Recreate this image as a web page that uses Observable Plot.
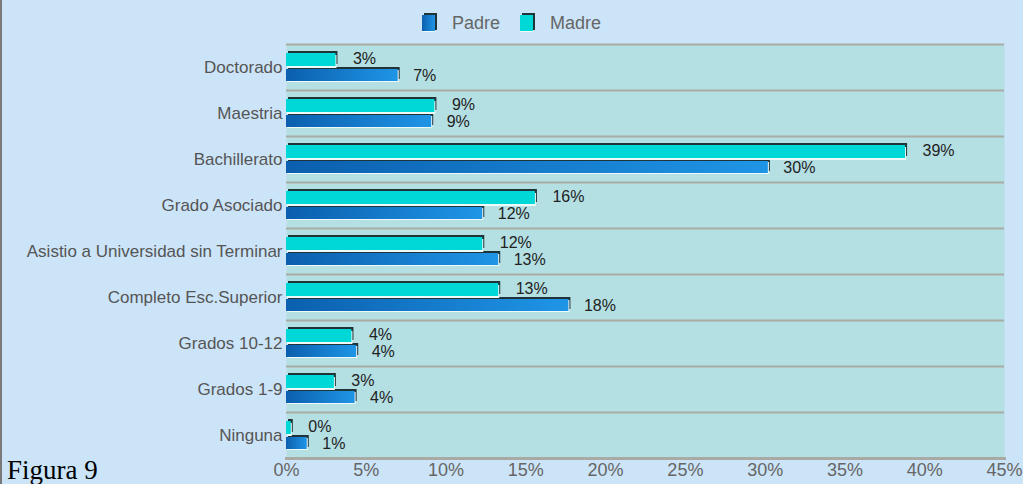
<!DOCTYPE html>
<html><head><meta charset="utf-8">
<script src="https://cdn.jsdelivr.net/npm/d3@7"></script>
<script src="https://cdn.jsdelivr.net/npm/@observablehq/plot@0.6"></script>
<style>
html,body{margin:0;padding:0}
body{background:#cce4f8;width:1023px;height:484px;overflow:hidden;position:relative;font-family:"Liberation Sans",Arial,sans-serif}
#border{position:absolute;left:0;top:0;width:2px;height:484px;background:#7a7a7a}
#legend{height:40px;position:relative}
.sw{position:absolute;top:15px;width:13px;height:16px;box-shadow:2px -2px 0 #1e3438;border-bottom:1px solid #eefafa}
.lt{position:absolute;top:13px;font-size:18px;color:#666}
#fig{position:absolute;left:7px;top:455px;font-family:"Liberation Serif","Times New Roman",serif;font-size:27px;line-height:31px;color:#000;white-space:nowrap}
#chart svg{display:block}
</style></head>
<body>
<div id="border"></div>
<div id="legend">
  <div class="sw" style="left:422px;background:linear-gradient(90deg,#0b5fae,#1f95e6)"></div>
  <div class="lt" style="left:452px">Padre</div>
  <div class="sw" style="left:520px;background:#00d8d8"></div>
  <div class="lt" style="left:550px">Madre</div>
</div>
<div id="chart"></div>
<div id="fig">Figura 9</div>
<script>
const categories = ["Doctorado","Maestria","Bachillerato","Grado Asociado","Asistio a Universidad sin Terminar","Completo Esc.Superior","Grados 10-12","Grados 1-9","Ninguna"];
const madre = [3.1, 9.3, 38.8, 15.6, 12.3, 13.3, 4.1, 3.0, 0.3];
const padre = [7.0, 9.1, 30.2, 12.3, 13.3, 17.7, 4.4, 4.3, 1.3];
const xTicks = [0,5,10,15,20,25,30,35,40,45];

const data = categories.map((c,i)=>({cat:c, madre:madre[i], padre:padre[i]}));
const fmt = v => Math.round(v) + "%";
const mIns = {insetTop:9, insetBottom:24};
const pIns = {insetTop:25, insetBottom:9};

const chart = Plot.plot({
  width:1023, height:444,
  marginTop:4, marginBottom:26, marginLeft:286, marginRight:19,
  style:{background:"transparent", fontFamily:"Liberation Sans, Arial, sans-serif", overflow:"visible"},
  x:{domain:[0,45]},
  y:{domain:categories, padding:0},
  marks:[
    Plot.frame({fill:"#b4dfe3", stroke:null}),
    Plot.ruleY(categories, {stroke:"#a9aca4", strokeWidth:2, dy:-23}),
    Plot.frame({anchor:"bottom", stroke:"#aaaaa4", strokeWidth:3}),
    // Padre bars
    Plot.barX(data, {x:"padre", y:"cat", ...pIns, fill:"#1e3438", dx:2, dy:-2}),
    Plot.barX(data, {x:"padre", y:"cat", ...pIns, fill:"#eefafa", dx:1, dy:1}),
    Plot.barX(data, {x:"padre", y:"cat", ...pIns, fill:"url(#padreGrad)"}),
    // Madre bars
    Plot.barX(data, {x:"madre", y:"cat", ...mIns, fill:"#1e3438", dx:2, dy:-2}),
    Plot.barX(data, {x:"madre", y:"cat", ...mIns, fill:"#eefafa", dx:1, dy:2}),
    Plot.barX(data, {x:"madre", y:"cat", ...mIns, fill:"#00d8d8"}),
    // labels
    Plot.text(data, {x:"madre", y:"cat", text:d=>fmt(d.madre), dx:17, dy:-9, textAnchor:"start", fontSize:16, fill:"#222"}),
    Plot.text(data, {x:"padre", y:"cat", text:d=>fmt(d.padre), dx:15, dy:8, textAnchor:"start", fontSize:16, fill:"#222"}),
    Plot.axisX({ticks:xTicks, tickSize:0, tickPadding:5, tickFormat:d=>d+"%", fontSize:18, color:"#666", label:null}),
    Plot.axisY({tickSize:0, tickPadding:4, fontSize:17, color:"#555", label:null})
  ]
});

const svg = d3.select(chart);
const defs = svg.insert("defs", ":first-child");
const g = defs.append("linearGradient").attr("id","padreGrad").attr("x1","0").attr("x2","1").attr("y1","0").attr("y2","0");
g.append("stop").attr("offset","0%").attr("stop-color","#0b5fae");
g.append("stop").attr("offset","100%").attr("stop-color","#1f95e6");
document.getElementById("chart").appendChild(chart);
</script>
</body></html>
